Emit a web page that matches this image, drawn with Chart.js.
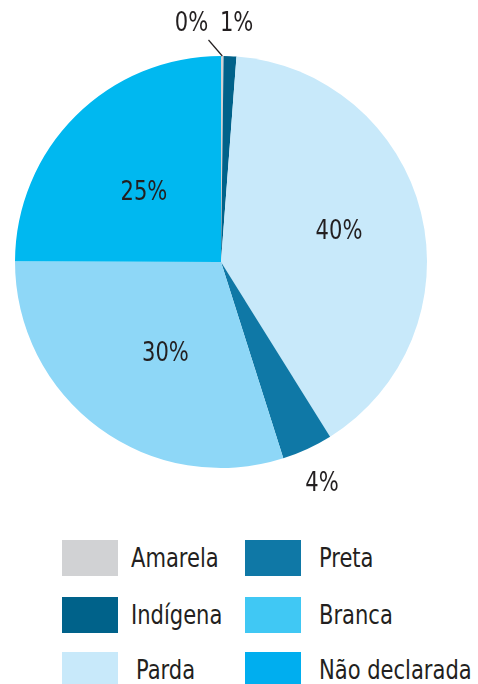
<!DOCTYPE html>
<html>
<head>
<meta charset="utf-8">
<script src="https://cdn.jsdelivr.net/npm/chart.js@4/dist/chart.umd.min.js"></script>
<style>
  body { margin: 0; background: #fff; }
  #wrap { position: relative; width: 478px; height: 684px; overflow: hidden; }
  #chart-box { position: absolute; left: 0; top: 0; width: 478px; height: 500px; }
  .leg { position: absolute; font-family: "Liberation Sans Narrow", "DejaVu Sans Condensed", sans-serif;
         font-size: 26px; color: #231f20; line-height: 36px; white-space: nowrap;
         transform: scaleX(0.9); transform-origin: left center; }
  .box { position: absolute; width: 56px; height: 36px; }
</style>
</head>
<body>
<div id="wrap">
  <div id="chart-box"><canvas id="pie"></canvas></div>
  <div id="legend"></div>
</div>
<script>
// dados
const categorias = ["Amarela", "Indígena", "Parda", "Preta", "Branca", "Não declarada"];
const valores = [0.2, 1, 40, 4, 30, 25];
const coresPizza = ["#d1d2d4", "#00628a", "#c8e9fa", "#0f78a6", "#8ed7f7", "#00b8f0"];
const coresLegenda = ["#d1d2d4", "#00628a", "#c8e9fa", "#0f78a6", "#40c8f4", "#00aeef"];

const fonte = '"Liberation Sans Narrow", "DejaVu Sans Condensed", sans-serif';

// onde vai cada rótulo: fator do raio (>1 fica fora) e ajuste fino
const posRotulos = [
  { r: 1.17, dx: -31, dy: 3, linha: true },
  { r: 1.17, dx: 5, dy: 3 },
  { r: 0.59, dx: 0, dy: -1 },
  { r: 1.17, dx: 0, dy: 3 },
  { r: 0.53, dx: 9, dy: 4 },
  { r: 0.53, dx: 0, dy: 9 },
];

const rotulosPlugin = {
  id: "rotulos",
  afterDatasetsDraw(chart) {
    const ctx = chart.ctx;
    const meta = chart.getDatasetMeta(0);
    ctx.save();
    ctx.font = "26px " + fonte;
    ctx.fillStyle = "#231f20";
    ctx.textAlign = "center";
    ctx.textBaseline = "middle";
    meta.data.forEach((arc, i) => {
      const p = arc.getProps(["x", "y", "startAngle", "endAngle", "outerRadius"], true);
      const meio = (p.startAngle + p.endAngle) / 2;
      const cfg = posRotulos[i];
      const x = p.x + Math.cos(meio) * p.outerRadius * cfg.r + cfg.dx;
      const y = p.y + Math.sin(meio) * p.outerRadius * cfg.r + cfg.dy;
      ctx.save();
      ctx.translate(x, y);
      ctx.scale(0.9, 1);
      ctx.fillText(Math.round(valores[i]) + "%", 0, 0);
      ctx.restore();
      if (cfg.linha) {
        // linha de chamada até a fatia
        ctx.strokeStyle = "#231f20";
        ctx.lineWidth = 1.2;
        ctx.beginPath();
        ctx.moveTo(x + 17, y + 16);
        ctx.lineTo(p.x + Math.cos(meio) * p.outerRadius, p.y + Math.sin(meio) * p.outerRadius);
        ctx.stroke();
      }
    });
    ctx.restore();
  },
};

new Chart(document.getElementById("pie"), {
  type: "pie",
  data: {
    labels: categorias,
    datasets: [
      {
        data: valores,
        backgroundColor: coresPizza,
        borderWidth: 0,
      },
    ],
  },
  options: {
    responsive: true,
    maintainAspectRatio: false,
    animation: false,
    layout: { padding: { left: 0, right: 36, top: 56, bottom: 32 } },
    plugins: {
      legend: { display: false },
      tooltip: { enabled: false },
    },
  },
  plugins: [rotulosPlugin],
});

// legenda em duas colunas (ordem por coluna)
const legenda = document.getElementById("legend");
const colunas = [
  [0, 1, 2],
  [3, 4, 5],
];
const colX = [62, 245];
const textoX = [131, 319];
const linhaY = [540, 597, 652];
colunas.forEach((col, c) => {
  col.forEach((idx, r) => {
    const caixa = document.createElement("div");
    caixa.className = "box";
    caixa.style.left = colX[c] + "px";
    caixa.style.top = linhaY[r] + "px";
    caixa.style.background = coresLegenda[idx];
    legenda.appendChild(caixa);
    const txt = document.createElement("div");
    txt.className = "leg";
    txt.style.left = textoX[c] + (idx === 2 ? 5 : 0) + "px";
    txt.style.top = linhaY[r] + "px";
    txt.textContent = categorias[idx];
    legenda.appendChild(txt);
  });
});
</script>
</body>
</html>
